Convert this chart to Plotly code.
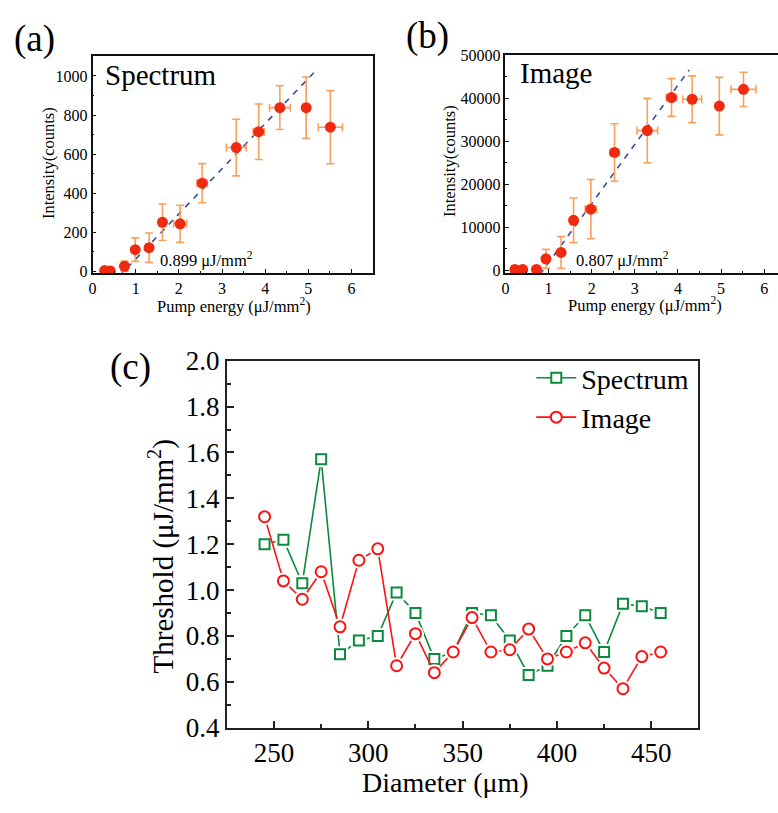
import plotly.graph_objects as go

W, H = 778, 813
FONT = "Liberation Serif, Times New Roman, serif"

# ---------------- data ----------------
# (a) Spectrum intensity vs pump energy
a_energy = [0.28, 0.41, 0.74, 0.99, 1.31, 1.62, 2.03, 2.54, 3.33, 3.85, 4.34, 4.95, 5.51]
a_intensity = [5, 3, 27, 112, 122, 252, 244, 452, 634, 715, 838, 838, 738]
a_intensity_err = [5, 3, 27, 60, 75, 93, 95, 100, 145, 142, 112, 157, 187]
a_energy_err = [0.06, 0.06, 0, 0, 0, 0, 0.15, 0.12, 0.23, 0.13, 0.24, 0, 0.28]
a_fit_x = [0.42, 5.15]
a_fit_y = [-70, 1022]
a_threshold_label = "0.899 μJ/mm<sup>2</sup>"

# (b) Image intensity vs pump energy
b_energy = [0.22, 0.40, 0.72, 0.94, 1.29, 1.58, 1.98, 2.53, 3.29, 3.85, 4.33, 4.96, 5.52]
b_intensity = [150, 150, 150, 2620, 4110, 11600, 14200, 27400, 32500, 40200, 39800, 38200, 42100]
b_intensity_err = [0, 0, 0, 2200, 3700, 5200, 6900, 6700, 7500, 4400, 5450, 6700, 4000]
b_energy_err = [0.06, 0.06, 0, 0, 0, 0, 0.13, 0.10, 0.24, 0.12, 0.22, 0, 0.29]
b_fit_x = [0.63, 4.26]
b_fit_y = [-3370, 46640]
b_threshold_label = "0.807 μJ/mm<sup>2</sup>"

# (c) Threshold vs diameter
diameter = [245, 255, 265, 275, 285, 295, 305, 315, 325, 335, 345,
            355, 365, 375, 385, 395, 405, 415, 425, 435, 445, 455]
thr_spectrum = [1.20, 1.22, 1.03, 1.57, 0.72, 0.78, 0.80, 0.99, 0.90, 0.70, 0.73,
                0.90, 0.89, 0.78, 0.63, 0.67, 0.80, 0.89, 0.73, 0.94, 0.93, 0.90]
thr_image = [1.32, 1.04, 0.96, 1.08, 0.84, 1.13, 1.18, 0.67, 0.81, 0.64, 0.73,
             0.88, 0.73, 0.74, 0.83, 0.70, 0.73, 0.77, 0.66, 0.57, 0.71, 0.73]

# ---------------- styles ----------------
PT_COLOR = "#f02a10"
ERR_COLOR = "#f7a05c"
FIT_COLOR = "#3a4c9c"
GREEN = "#0a8a3c"
RED = "#ff1010"


def fx(p):
    return p / W


def fy(p):
    return 1 - p / H


fig = go.Figure()


def add_panel(xs, ys, yerr, xerr, fitx, fity, xa, ya):
    fig.add_trace(go.Scatter(
        x=fitx, y=fity, mode="lines", xaxis=xa, yaxis=ya, showlegend=False,
        line=dict(color=FIT_COLOR, width=1.6, dash="6px,6px")))
    fig.add_trace(go.Scatter(
        x=xs, y=ys, mode="markers", xaxis=xa, yaxis=ya, showlegend=False,
        marker=dict(color=PT_COLOR, size=11, line=dict(width=0)),
        error_y=dict(type="data", array=yerr, visible=True, color=ERR_COLOR,
                     thickness=1.6, width=4),
        error_x=dict(type="data", array=xerr, visible=True, color=ERR_COLOR,
                     thickness=1.6, width=4)))


add_panel(a_energy, a_intensity, a_intensity_err, a_energy_err, a_fit_x, a_fit_y, "x", "y")
add_panel(b_energy, b_intensity, b_intensity_err, b_energy_err, b_fit_x, b_fit_y, "x2", "y2")


def add_series(xs, ys, color, symbol, size, name):
    # connecting line
    fig.add_trace(go.Scatter(
        x=xs, y=ys, mode="lines", xaxis="x3", yaxis="y3", showlegend=False,
        line=dict(color=color, width=1.6), hoverinfo="skip"))
    # white halo leaving a small gap between line and symbol
    fig.add_trace(go.Scatter(
        x=xs, y=ys, mode="markers", xaxis="x3", yaxis="y3", showlegend=False,
        marker=dict(color="white", size=size + 6, symbol=symbol, line=dict(width=0)),
        hoverinfo="skip"))
    # open symbols
    fig.add_trace(go.Scatter(
        x=xs, y=ys, mode="markers", xaxis="x3", yaxis="y3", showlegend=False,
        marker=dict(color="white", size=size, symbol=symbol,
                    line=dict(color=color, width=2))))
    # legend entry
    fig.add_trace(go.Scatter(
        x=[None], y=[None], mode="lines+markers", xaxis="x3", yaxis="y3", name=name,
        line=dict(color=color, width=1.6),
        marker=dict(color="white", size=size, symbol=symbol,
                    line=dict(color=color, width=2))))


add_series(diameter, thr_spectrum, GREEN, "square", 10, "Spectrum")
add_series(diameter, thr_image, RED, "circle", 11, "Image")

small_axis = dict(showline=True, linecolor="#111", linewidth=1.5, mirror=True,
                  ticks="inside", ticklen=4, tickwidth=1.2, tickcolor="#111",
                  showgrid=False, zeroline=False,
                  tickfont=dict(family=FONT, size=16, color="black"))

big_axis = dict(showline=True, linecolor="#222", linewidth=2, mirror=True,
                ticks="inside", ticklen=7, tickwidth=1.5, tickcolor="#222",
                showgrid=False, zeroline=False,
                tickfont=dict(family=FONT, size=27, color="black"))

layout = dict(
    width=W, height=H, margin=dict(l=0, r=0, t=0, b=0),
    paper_bgcolor="white", plot_bgcolor="white",
    font=dict(family=FONT, color="black"),
    xaxis=dict(**small_axis, domain=[fx(89), fx(371)], range=[0, 6.5], dtick=1,
               anchor="y", minor=dict(dtick=0.5, ticks="inside", ticklen=2, tickcolor="#111")),
    yaxis=dict(**small_axis, domain=[fy(268), fy(43)], range=[-8, 1100], dtick=200,
               anchor="x", minor=dict(dtick=100, ticks="inside", ticklen=2, tickcolor="#111")),
    xaxis2=dict(**small_axis, domain=[fx(504), 1.0], range=[0, 6.32], dtick=1,
                anchor="y2", minor=dict(dtick=0.5, ticks="inside", ticklen=2, tickcolor="#111")),
    yaxis2=dict(**{**small_axis, "mirror": False}, domain=[fy(268), fy(42)], range=[-700, 50000],
                dtick=10000, tickformat="d", anchor="x2",
                minor=dict(dtick=5000, ticks="inside", ticklen=2, tickcolor="#111")),
    xaxis3=dict(**big_axis, domain=[fx(224), fx(698)], range=[225, 475], dtick=50,
                anchor="y3", minor=dict(dtick=25, ticks="inside", ticklen=4, tickcolor="#222")),
    yaxis3=dict(**big_axis, domain=[fy(740), fy(359)], range=[0.4, 2.0], dtick=0.2,
                tickformat=".1f", anchor="x3",
                minor=dict(dtick=0.1, ticks="inside", ticklen=4, tickcolor="#222")),
    legend=dict(x=fx(530), y=fy(351), xanchor="left", yanchor="top",
                bgcolor="rgba(0,0,0,0)", borderwidth=0,
                font=dict(family=FONT, size=28, color="black"),
                tracegroupgap=0, itemwidth=40),
    showlegend=True,
)
fig.update_layout(**layout)


def ann(text, x, y, size, xanchor="center", yanchor="middle", angle=0):
    fig.add_annotation(text=text, x=x, y=y, xref="paper", yref="paper",
                       xanchor=xanchor, yanchor=yanchor, showarrow=False,
                       textangle=angle, font=dict(family=FONT, size=size, color="black"))


# panel labels
ann("(a)", fx(8), fy(25), 37, xanchor="left")
ann("(b)", fx(402), fy(22), 37, xanchor="left")
ann("(c)", fx(105), fy(365), 37, xanchor="left")

# in-plot labels
ann("Spectrum", fx(100), fy(62), 29, xanchor="left")
ann("Image", fx(517), fy(60), 29, xanchor="left")
ann(a_threshold_label, fx(155), fy(254), 16.5, xanchor="left")
ann(b_threshold_label, fx(573), fy(254), 16.5, xanchor="left")

# axis titles
ann("Intensity(counts)", fx(45), fy(154), 16.5, angle=-90)
ann("Pump energy (μJ/mm<sup>2</sup>)", fx(231), fy(302), 16.5)
ann("Intensity(counts)", fx(448), fy(152), 16.5, angle=-90)
ann("Pump energy (μJ/mm<sup>2</sup>)", fx(644), fy(301), 16.5)
ann("Threshold (μJ/mm<sup>2</sup>)", fx(158), fy(562), 29, angle=-90)
ann("Diameter (μm)", fx(444), fy(797), 28)

fig.write_html("out.html")
